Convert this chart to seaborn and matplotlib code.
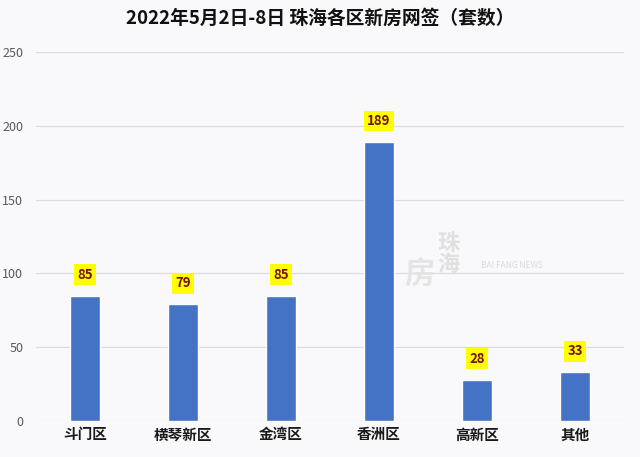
import matplotlib
matplotlib.use("Agg")
import matplotlib.pyplot as plt
import seaborn as sns
import pandas as pd

categories = ["斗门区", "横琴新区", "金湾区", "香洲区", "高新区", "其他"]
values = [85, 79, 85, 189, 28, 33]
yticks = [0, 50, 100, 150, 200, 250]
title = "2022年5月2日-8日 珠海各区新房网签（套数）"

sns.set_theme(style="white")
plt.rcParams['font.family'] = ['Noto Sans CJK SC', 'DejaVu Sans']

df = pd.DataFrame({"区": categories, "套数": values})

fig = plt.figure(figsize=(6.4, 4.57), dpi=100, facecolor="#f9f9fb")
ax = fig.add_axes([0.056, 0.079, 0.919, 0.807])
ax.set_facecolor("#f9f9fb")

sns.barplot(data=df, x="区", y="套数", color="#4472C4", width=0.31, ax=ax, saturation=1)

ax.set_ylim(0, 250)
ax.set_xlim(-0.5, len(categories) - 0.5)
ax.set_yticks(yticks)
ax.set_yticklabels([str(t) for t in yticks], color="#595959", fontsize=9)
ax.yaxis.grid(True, color="#dcdcdc", linewidth=0.9)
ax.set_axisbelow(True)
ax.tick_params(axis="y", length=0, pad=9)
ax.tick_params(axis="x", length=0, pad=4)
for lbl in ax.get_xticklabels():
    lbl.set_fontweight("bold")
    lbl.set_fontsize(10.5)
    lbl.set_color("#1a1a1a")
ax.set_xlabel("")
ax.set_ylabel("")
for s in ax.spines.values():
    s.set_visible(False)

for i, v in enumerate(values):
    ax.annotate(str(v), xy=(i, v), xytext=(0, 10), textcoords="offset points",
                ha="center", va="bottom", fontsize=9.5, fontweight="bold", color="#7a1010",
                bbox=dict(boxstyle="square,pad=0.25", facecolor="#ffff00", edgecolor="none"))

fig.text(0.5, 0.96, title, ha="center", va="center", fontsize=13.5, fontweight="bold", color="#111111")

# faint watermark
fig.text(0.80, 0.42, "BAI FANG NEWS", ha="center", va="center", fontsize=6, color="#d9d9d9")
fig.text(0.70, 0.445, "珠\n海", ha="center", va="center", fontsize=16, color="#e0e0e0", fontweight="bold", linespacing=0.9)
fig.text(0.655, 0.40, "房", ha="center", va="center", fontsize=22, color="#e4e4e4", fontweight="bold")

fig.savefig("out.png", dpi=100, facecolor=fig.get_facecolor())
